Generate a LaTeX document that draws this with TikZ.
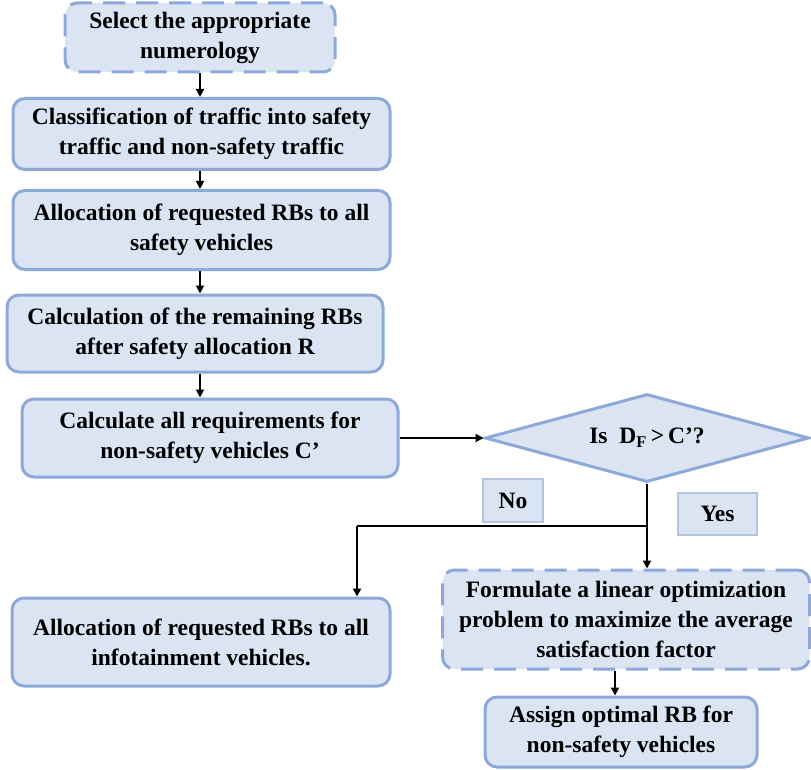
\documentclass[tikz,border=0pt]{standalone}
\usepackage{fontspec}
\setmainfont{Liberation Serif}
\usetikzlibrary{shapes.geometric,arrows.meta}
\definecolor{boxfill}{HTML}{DAE4F3}
\definecolor{boxline}{HTML}{8EA9D8}
\definecolor{lblline}{HTML}{B4C5E0}
\tikzset{
  every node/.style={font=\bfseries\fontsize{23.5}{30}\selectfont, text=black},
  flowbox/.style={draw=boxline, fill=boxfill, line width=3pt, rounded corners=12pt,
    align=center, inner sep=0pt},
  dashbox/.style={flowbox, dash pattern=on 22pt off 11pt},
  decision/.style={diamond, draw=boxline, fill=boxfill, line width=3pt, inner sep=0pt, aspect=3.7},
  lbl/.style={draw=lblline, fill=boxfill, line width=1.2pt, inner sep=0pt},
  arr/.style={line width=2.2pt, -{Triangle[length=8pt,width=8pt]}},
  conn/.style={line width=2.2pt}
}
\begin{document}
\begin{tikzpicture}[x=1pt,y=-1pt]
\useasboundingbox (0,0) rectangle (811,770);
\node[dashbox, minimum width=270pt, minimum height=69pt] (b1) at (200,37.5)
  {Select the appropriate\\numerology};
\node[flowbox, minimum width=377pt, minimum height=71pt] (b2) at (201.5,134)
  {Classification of traffic into safety\\traffic and non-safety traffic};
\node[flowbox, minimum width=377pt, minimum height=79pt] (b3) at (201.5,230)
  {Allocation of requested RBs to all\\safety vehicles};
\node[flowbox, minimum width=376pt, minimum height=77pt] (b4) at (195,333.5)
  {Calculation of the remaining RBs\\after safety allocation R};
\node[flowbox, minimum width=376pt, minimum height=78pt] (b5) at (210,438)
  {Calculate all requirements for\\non-safety vehicles C’};
\node[decision, minimum width=324pt, minimum height=88pt] (d) at (647,438)
  {Is\ \ D\textsubscript{F}\,>\,C’?};
\node[lbl, minimum width=60pt, minimum height=43pt] (no) at (513,500.5) {No};
\node[lbl, minimum width=79pt, minimum height=42pt] (yes) at (717.5,514) {Yes};
\node[flowbox, minimum width=378pt, minimum height=88pt] (L) at (201,642)
  {Allocation of requested RBs to all\\infotainment vehicles.};
\node[dashbox, minimum width=367pt, minimum height=99pt] (R) at (626,619.5)
  {Formulate a linear optimization\\problem to maximize the average\\satisfaction factor};
\node[flowbox, minimum width=272pt, minimum height=70pt] (F) at (621,732)
  {Assign optimal RB for\\non-safety vehicles};
\coordinate (j) at (647,526);
\coordinate (nl) at (357,526);
\coordinate (rf) at (615,0);
\draw[arr] (b1.south -| b1) -- (b2.north -| b1);
\draw[arr] (b2.south -| b1) -- (b3.north -| b1);
\draw[arr] (b3.south -| b1) -- (b4.north -| b1);
\draw[arr] (b4.south -| b1) -- (b5.north -| b1);
\draw[arr] (b5.east) -- (d.west);
\draw[arr] (d.south) -- (R.north -| d.south);
\draw[conn] (j) -- (nl);
\draw[arr] (nl) -- (L.north -| nl);
\draw[arr] (R.south -| rf) -- (F.north -| rf);
\end{tikzpicture}
\end{document}
